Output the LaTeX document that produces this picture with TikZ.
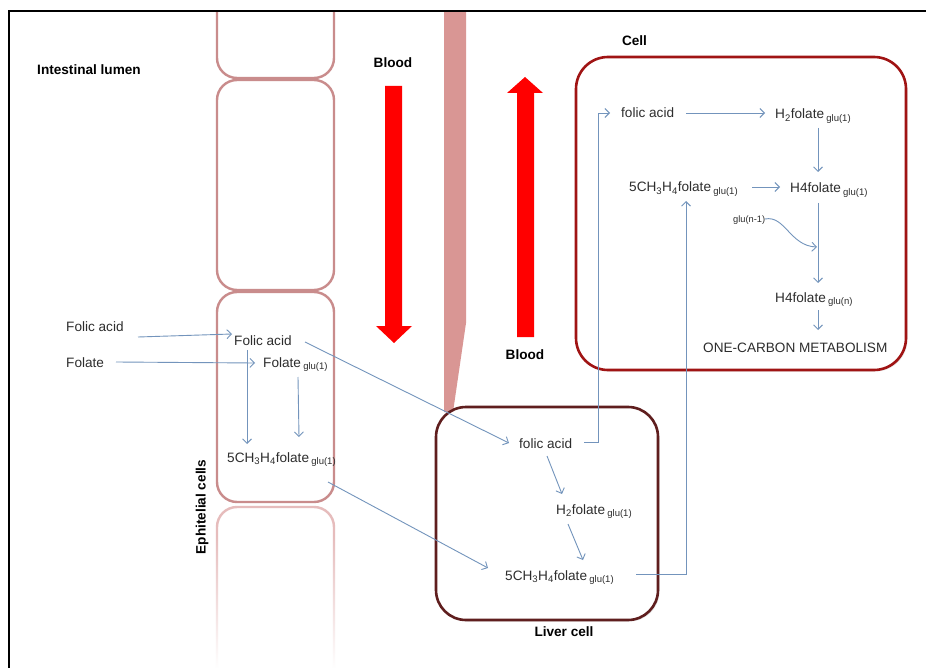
\documentclass[tikz,border=0pt]{standalone}
\usepackage{fontspec}
\setmainfont{Liberation Sans}
\usetikzlibrary{arrows.meta,fadings,shadows}
\definecolor{txtgray}{RGB}{45,45,45}
\definecolor{arrblue}{RGB}{115,148,188}
\definecolor{epipink}{RGB}{201,140,140}
\definecolor{epifadecol}{RGB}{230,188,188}
\definecolor{bandpink}{RGB}{217,150,148}
\definecolor{cellred}{RGB}{160,20,20}
\definecolor{liverbrown}{RGB}{95,30,30}
\begin{document}
\begin{tikzpicture}[x=1pt,y=-1pt,
  txt/.style={anchor=base west,inner sep=0pt,text=txtgray,font=\fontsize{13.6}{16}\selectfont},
  smalltxt/.style={anchor=base west,inner sep=0pt,text=txtgray,font=\fontsize{9.3}{11}\selectfont},
  lbl/.style={inner sep=0pt,font=\fontsize{13.6}{16}\selectfont\bfseries},
  arr/.style={draw=arrblue,line width=0.9pt,-{Straight Barb[length=4.5pt,width=9pt]}},
  epi/.style={draw=epipink,line width=2.4pt,rounded corners=20pt},
  epifade/.style={draw=epifadecol,line width=2.4pt,rounded corners=20pt},
  bigbox/.style={draw,fill=white,line width=2.6pt,rounded corners=32pt,inner sep=0pt,
    drop shadow={opacity=0.18,shadow xshift=1.5pt,shadow yshift=-1.5pt}},
  redarrow/.style={fill=red}
]
\useasboundingbox (0,0) rectangle (926,668);
\fill[white] (0,0) rectangle (926,668);

% blood vessel band
\fill[bandpink] (444,11) -- (466,11) -- (466,323) -- (453,412) -- (444,412) -- cycle;

% epithelial cells
\draw[epi] (217,11) -- (217,78) -- (334,78) -- (334,11);
\draw[epi] (217,80) rectangle (334,290);
\draw[epi] (217,292) rectangle (334,502);
\draw[epifade] (217,668) -- (217,507) -- (334,507) -- (334,668);
\fill[white, path fading=north] (211,535) rectangle (341,668);

% red blood-flow arrows
\fill[redarrow] (385,86) -- (402,86) -- (402,326) -- (412,326) -- (394,343) -- (376,326) -- (385,326) -- cycle;
\fill[redarrow] (517,337) -- (534,337) -- (534,93) -- (543,93) -- (525,77) -- (507,93) -- (517,93) -- cycle;

% cell boxes
\node[bigbox,draw=cellred,minimum width=330pt,minimum height=313pt] (cellbox) at (741,213.5) {};
\node[bigbox,draw=liverbrown,rounded corners=30pt,minimum width=222pt,minimum height=213pt] (liverbox) at (547,513.5) {};

% frame
\draw[line width=2.5pt] (9,668) -- (9,11) -- (926,11);

% labels
\node[lbl] (lumen) at (89,70) {Intestinal lumen};
\node[lbl] (blood1) at (393,63) {Blood};
\node[lbl] (blood2) at (525,355) {Blood};
\node[lbl] (celllbl) at (634.5,41) {Cell};
\node[lbl] (liverlbl) at (564,632) {Liver cell};
\node[lbl,rotate=90] (epilbl) at (202,507) {Ephitelial cells};

% lumen / epithelium texts
\node[txt] (lfa) at (66,331) {Folic acid};
\node[txt] (lfo) at (66,367) {Folate};
\node[txt] (efa) at (234,345) {Folic acid};
\node[txt] (efo) at (263,367) {Folate\,\textsubscript{glu(1)}};
\node[txt] (e5) at (227,462) {5CH\textsubscript{3}H\textsubscript{4}folate\,\textsubscript{glu(1)}};

% liver texts
\node[txt] (lvfa) at (519,448) {folic acid};
\node[txt] (lvh2) at (556,514) {H\textsubscript{2}folate\,\textsubscript{glu(1)}};
\node[txt] (lv5) at (505,580) {5CH\textsubscript{3}H\textsubscript{4}folate\,\textsubscript{glu(1)}};

% cell texts
\node[txt] (cfa) at (621,118) {folic acid};
\node[txt] (ch2) at (775,119) {H\textsubscript{2}folate\,\textsubscript{glu(1)}};
\node[txt] (c5) at (629,192) {5CH\textsubscript{3}H\textsubscript{4}folate\,\textsubscript{glu(1)}};
\node[txt] (ch4) at (790,193) {H4folate\,\textsubscript{glu(1)}};
\node[smalltxt] (cglu) at (733,223) {glu(n-1)};
\node[txt] (ch4n) at (775,302) {H4folate\,\textsubscript{glu(n)}};
\node[txt] (one) at (703,352) {ONE-CARBON METABOLISM};

% connectors: epithelium
\draw[arr] ([shift={(72,6)}]lfa.base west) -- ([shift={(-2,-11)}]efa.base west);
\draw[arr] ([shift={(50,-5)}]lfo.base west) -- ([shift={(-8,-4)}]efo.base west);
\draw[arr] ([shift={(13,5)}]efa.base west) -- ([shift={(20,-18)}]e5.base west);
\draw[arr] ([shift={(35,10)}]efo.base west) -- ([shift={(72,-25)}]e5.base west);
\draw[arr] ([shift={(71,-3)}]efa.base west) -- ([shift={(-10,-5)}]lvfa.base west);
\draw[arr] ([shift={(101,20)}]e5.base west) -- ([shift={(-17,-12)}]lv5.base west);

% connectors: liver
\draw[arr] ([shift={(28,8)}]lvfa.base west) -- ([shift={(6,-20)}]lvh2.base west);
\draw[arr] ([shift={(12,10)}]lvh2.base west) -- ([shift={(78,-20)}]lv5.base west);
\draw[arr] ([shift={(65,-6)}]lvfa.base west) -| ([shift={(-23,-5)}]cfa.base west) -- ([shift={(-11,-5)}]cfa.base west);
\draw[arr] ([shift={(131,-6)}]lv5.base west) -| ([shift={(57,9)}]c5.base west);

% connectors: cell
\draw[arr] ([shift={(65,-5)}]cfa.base west) -- ([shift={(-10,-6)}]ch2.base west);
\draw[arr] ([shift={(43,9)}]ch2.base west) -- ([shift={(28,-21)}]ch4.base west);
\draw[arr] ([shift={(123,-5)}]c5.base west) -- ([shift={(-10,-6)}]ch4.base west);
\draw[arr] ([shift={(28,10)}]ch4.base west) -- ([shift={(43,-19)}]ch4n.base west);
\draw[arr] ([shift={(32,-4)}]cglu.base west) .. controls (785,215) and (790,246) .. ([shift={(27,54)}]ch4.base west);
\draw[arr] ([shift={(43,8)}]ch4n.base west) -- ([shift={(115,-22)}]one.base west);
\end{tikzpicture}
\end{document}
